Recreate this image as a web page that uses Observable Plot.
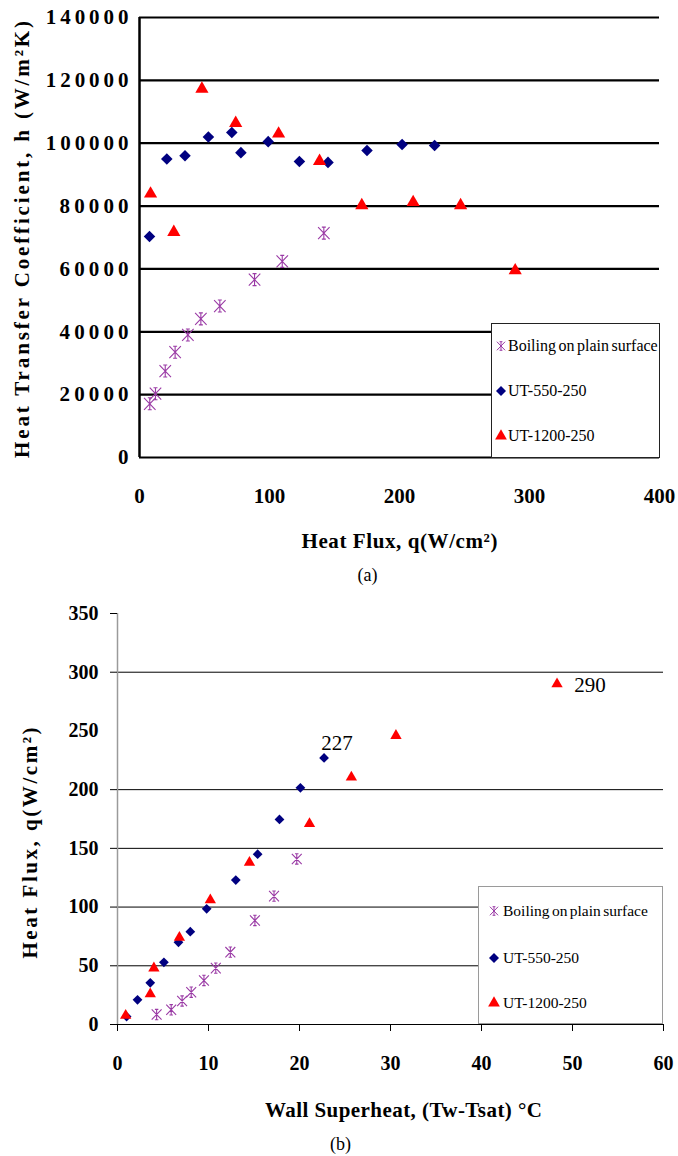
<!DOCTYPE html>
<html><head><meta charset="utf-8">
<script src="https://cdn.jsdelivr.net/npm/d3@7"></script>
<script src="https://cdn.jsdelivr.net/npm/@observablehq/plot@0.6"></script>
<style>
html,body{margin:0;padding:0;background:#fff}
#wrap{position:relative;width:678px;height:1156px;overflow:hidden;font-family:'Liberation Serif',serif;background:#fff}
.panel{position:absolute;left:0}
.panel svg, .panel svg text{font-family:'Liberation Serif',serif !important}
.legend{position:absolute;background:#fff;box-sizing:border-box}
.legend .row{position:absolute;left:0;height:0;white-space:nowrap;color:#000;font-family:'Liberation Serif',serif}
.legend .row span{position:absolute;top:-10px;line-height:19px;word-spacing:-1.5px}
.legend .row svg{position:absolute;overflow:visible}
</style></head><body>
<div id="wrap">
  <div id="pa" class="panel" style="top:0"></div>
  <div id="pb" class="panel" style="top:590px"></div>
  <div id="lga" class="legend" style="left:491px;top:323px;width:169px;height:135px;border:1px solid #222;font-size:16px"></div>
  <div id="lgb" class="legend" style="left:478px;top:886px;width:185px;height:138px;border:1.5px solid #9a9a9a;font-size:15.5px"></div>
</div>
<script>
// ---------- data ----------
const seriesNames = ["Boiling on plain surface", "UT-550-250", "UT-1200-250"];
const seriesColors = ["#9a3aa5", "#000080", "#ff0000"];

// Panel (a): heat transfer coefficient vs heat flux
const boilA_q = [7.9, 12.3, 19.8, 27.4, 37.2, 47.2, 61.8, 88.5, 109.8, 141.8];
const boilA_h = [17100, 20300, 27500, 33500, 39000, 44100, 48200, 56600, 62400, 71400];
const ut550A_q = [7.7, 21, 35, 53, 71, 78, 99, 123, 145, 175, 202, 227];
const ut550A_h = [70300, 95000, 96000, 102000, 103400, 97000, 100500, 94200, 93900, 97700, 99600, 99300];
const ut1200A_q = [8.5, 26.4, 48, 74, 107, 138.5, 171, 210.5, 247, 289];
const ut1200A_h = [83900, 71700, 117300, 106400, 103000, 94300, 80200, 81200, 80200, 59500];

const xTicksA = [0, 100, 200, 300, 400];
const yTicksA = [0, 20000, 40000, 60000, 80000, 100000, 120000, 140000];
const xTitleA = "Heat Flux, q(W/cm\u00B2)";
const yTitleA = "Heat Transfer Coefficient, h (W/m\u00B2K)";
const captionA = "(a)";

// Panel (b): heat flux vs wall superheat
const boilB_t = [4.3, 5.9, 7.1, 8.1, 9.5, 10.8, 12.4, 15.1, 17.2, 19.7];
const boilB_q = [8.5, 12.5, 20, 27.5, 37.5, 48, 61.6, 88.6, 109.3, 141];
const ut550B_t = [1.0, 2.2, 3.6, 5.1, 6.7, 8.0, 9.8, 13.0, 15.4, 17.8, 20.1, 22.7];
const ut550B_q = [6.8, 21, 35.5, 53, 70, 79, 98.5, 123, 145, 174.6, 201.6, 227];
const ut1200B_t = [0.9, 3.6, 4.0, 6.8, 10.2, 14.5, 21.1, 25.7, 30.6, 48.3];
const ut1200B_q = [7.7, 26, 48, 74, 106, 138, 171, 210.6, 246, 290];

const xTicksB = [0, 10, 20, 30, 40, 50, 60];
const yTicksB = [0, 50, 100, 150, 200, 250, 300, 350];
const yTickMarksB = [0, 50, 100, 150, 200, 300, 350];
const yGridB = [50, 100, 150, 200, 300];
const xTitleB = "Wall Superheat, (Tw-Tsat) \u00B0C";
const yTitleB = "Heat Flux, q(W/cm\u00B2)";
const captionB = "(b)";

// ---------- helpers ----------
const zip = (xs, ys) => xs.map((x, i) => ({x, y: ys[i]}));
const asterisk = {
  draw(ctx, size) {
    const r = Math.sqrt(size / Math.PI);
    const w = r * 1.15, h = r * 1.2, c = r * 0.4;
    ctx.moveTo(-w, -h); ctx.lineTo(w, h);
    ctx.moveTo(w, -h); ctx.lineTo(-w, h);
    ctx.moveTo(0, -h); ctx.lineTo(0, h);
    ctx.moveTo(-c, -h); ctx.lineTo(c, -h);
    ctx.moveTo(-c, h); ctx.lineTo(c, h);
  }
};
const fmt = d => String(d);
const serif = "'Liberation Serif', serif";

function seriesMarks(boil, u550, u1200, rs) {
  return [
    Plot.dot(boil, {x: "x", y: "y", symbol: asterisk, r: rs[0], stroke: seriesColors[0], fill: "none", strokeWidth: 1.1}),
    Plot.dot(u550, {x: "x", y: "y", symbol: "diamond2", r: rs[1], fill: seriesColors[1], stroke: "none"}),
    Plot.dot(u1200, {x: "x", y: "y", symbol: "triangle", r: rs[2], fill: seriesColors[2], stroke: "none"})
  ];
}
// stretch a text to the given length (the original glyphs are widened)
function stretch(svg, match, len) {
  d3.select(svg).selectAll("text").each(function () {
    if (this.textContent === match) d3.select(this).attr("textLength", len).attr("lengthAdjust", "spacing");
  });
}

// ---------- panel (a) ----------
const boilA = zip(boilA_q, boilA_h), u550A = zip(ut550A_q, ut550A_h), u1200A = zip(ut1200A_q, ut1200A_h);
const plotA = Plot.plot({
  width: 678, height: 590,
  marginTop: 17, marginBottom: 133, marginLeft: 139, marginRight: 19,
  style: {fontFamily: serif, fontSize: "21px", fontWeight: "bold", color: "#000", background: "transparent"},
  x: {domain: [0, 400]},
  y: {domain: [0, 140000]},
  marks: [
    Plot.ruleY(yTicksA, {stroke: "#000", strokeWidth: 2.2}),
    Plot.ruleX([0], {stroke: "#000", strokeWidth: 2.5}),
    Plot.axisX(xTicksA, {tickSize: 0, tickPadding: 31, tickFormat: fmt, label: null, fontSize: 21}),
    Plot.axisY(yTicksA, {tickSize: 0, tickPadding: 11, tickFormat: fmt, label: null, fontSize: 21}),
    ...seriesMarks(boilA, u550A, u1200A, [5, 5.2, 4.9]),
    Plot.text([xTitleA], {text: d => d, frameAnchor: "bottom", dy: 84, lineAnchor: "middle", fontSize: 21, fontWeight: "bold"}),
    Plot.text([yTitleA], {text: d => d, frameAnchor: "left", textAnchor: "middle", rotate: -90, dx: -117, dy: 2, lineAnchor: "middle", fontSize: 21, fontWeight: "bold"}),
    Plot.text([captionA], {text: d => d, frameAnchor: "bottom", dy: 118, dx: -32, lineAnchor: "middle", fontSize: 18, fontWeight: "normal"})
  ]
});
document.getElementById("pa").appendChild(plotA);
stretch(plotA, yTitleA, 437);
stretch(plotA, xTitleA, 196);
d3.select(plotA).selectAll('g[aria-label="y-axis tick label"] text').each(function () {
  const n = this.textContent.length;
  if (n > 1) d3.select(this).attr("textLength", n * 13.8).attr("lengthAdjust", "spacing");
});

// ---------- panel (b) ----------
const boilB = zip(boilB_t, boilB_q), u550B = zip(ut550B_t, ut550B_q), u1200B = zip(ut1200B_t, ut1200B_q);
const last550 = u550B[u550B.length - 1], last1200 = u1200B[u1200B.length - 1];
const plotB = Plot.plot({
  width: 678, height: 566,
  marginTop: 23, marginBottom: 132, marginLeft: 117, marginRight: 15,
  style: {fontFamily: serif, fontSize: "20px", fontWeight: "bold", color: "#000", background: "transparent"},
  x: {domain: [0, 60]},
  y: {domain: [0, 350]},
  marks: [
    Plot.ruleY(yGridB, {stroke: "#000", strokeWidth: 1}),
    Plot.ruleY([0], {stroke: "#000", strokeWidth: 1.2}),
    Plot.ruleX([0], {stroke: "#9a9a9a", strokeWidth: 1.5}),
    Plot.axisX(xTicksB, {tickSize: 7, tickPadding: 24, tickFormat: fmt, label: null, fontSize: 20}),
    Plot.axisY(yTicksB, {tickSize: 0, tickPadding: 19, tickFormat: fmt, label: null, fontSize: 20}),
    Plot.axisY(yTickMarksB, {tickSize: 7, tickFormat: () => "", label: null}),
    ...seriesMarks(boilB, u550B, u1200B, [4.3, 4.4, 4.2]),
    Plot.text([last550], {x: "x", y: "y", text: d => String(d.y), dx: 13, dy: -15, fontSize: 21, fontWeight: "normal"}),
    Plot.text([last1200], {x: "x", y: "y", text: d => String(d.y), dx: 33, dy: 1, fontSize: 21, fontWeight: "normal"}),
    Plot.text([xTitleB], {text: d => d, frameAnchor: "bottom", dy: 86, dx: 13, lineAnchor: "middle", fontSize: 21, fontWeight: "bold"}),
    Plot.text([yTitleB], {text: d => d, frameAnchor: "left", textAnchor: "middle", rotate: -90, dx: -87, dy: 24, lineAnchor: "middle", fontSize: 21, fontWeight: "bold"}),
    Plot.text([captionB], {text: d => d, frameAnchor: "bottom", dy: 120, dx: -50, lineAnchor: "middle", fontSize: 18, fontWeight: "normal"})
  ]
});
document.getElementById("pb").appendChild(plotB);
stretch(plotB, yTitleB, 231);
stretch(plotB, xTitleB, 277);

// ---------- legends ----------
function buildLegend(id, rowYs, symX, textX, sizes) {
  const box = d3.select("#" + id);
  seriesNames.forEach((name, i) => {
    const row = box.append("div").attr("class", "row").style("top", rowYs[i] + "px");
    const svg = row.append("svg").attr("width", 1).attr("height", 1)
      .style("left", symX + "px").style("top", "0px");
    const g = svg.append("g");
    if (i === 0) {
      const p = d3.path(); asterisk.draw(p, sizes[0]);
      g.append("path").attr("d", p.toString()).attr("fill", "none")
        .attr("stroke", seriesColors[0]).attr("stroke-width", 1);
    } else if (i === 1) {
      g.append("path").attr("d", d3.symbol(d3.symbolSquare, sizes[1])()).attr("transform", "rotate(45)")
        .attr("fill", seriesColors[1]);
    } else {
      g.append("path").attr("d", d3.symbol(d3.symbolTriangle, sizes[2])()).attr("fill", seriesColors[2]);
    }
    row.append("span").style("left", textX + "px").text(name);
  });
}
buildLegend("lga", [22, 67, 112], 9, 16, [40, 50, 60]);
buildLegend("lgb", [24, 71, 116], 15, 24, [40, 50, 60]);
</script>
</body></html>
